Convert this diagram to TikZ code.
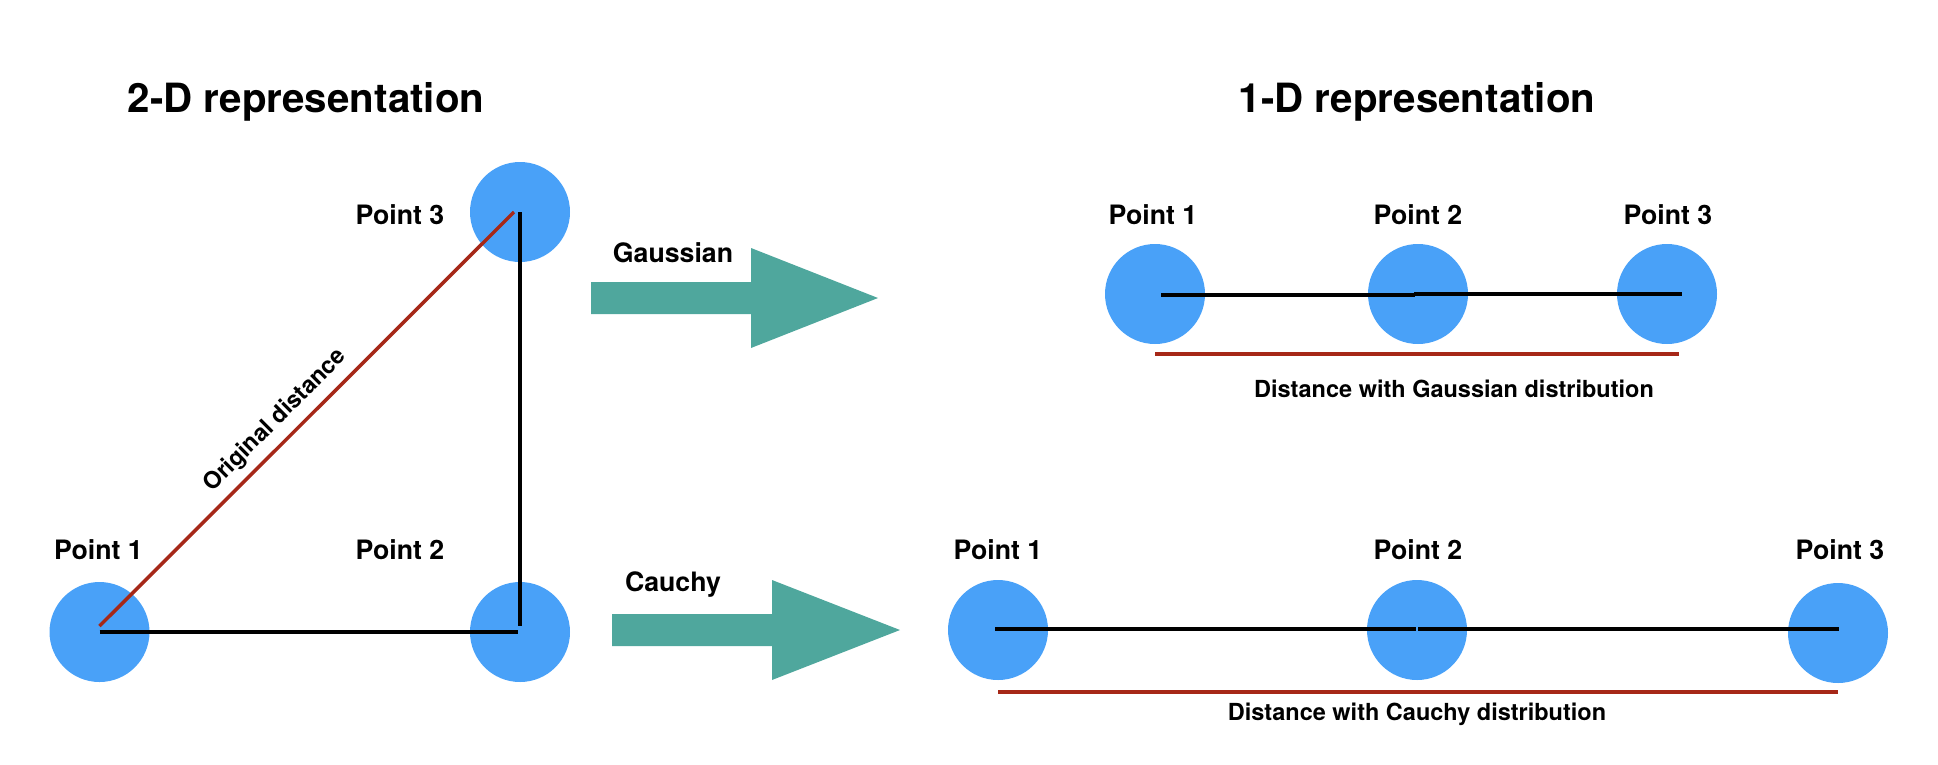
\documentclass[tikz,border=0pt]{standalone}
\usepackage{fontspec}
\setmainfont{TeX Gyre Heros}
\definecolor{dotblue}{RGB}{73,161,248}
\definecolor{arrowteal}{RGB}{79,167,157}
\definecolor{distred}{RGB}{166,40,24}
\tikzset{
  ptdot/.style={circle, fill=dotblue, minimum size=100pt, inner sep=0pt},
  ptlabel/.style={anchor=base, inner sep=0pt, font=\fontsize{26.7}{32}\selectfont\bfseries},
  titlelabel/.style={anchor=base, inner sep=0pt, font=\fontsize{40.3}{48}\selectfont\bfseries},
  distlabel/.style={anchor=base, inner sep=0pt, font=\fontsize{23.5}{28}\selectfont\bfseries},
  blackline/.style={line width=4pt, black},
  redline/.style={line width=3.5pt, distred},
}

\begin{document}
\begin{tikzpicture}[x=1pt, y=-1pt]
    \useasboundingbox (0,0) rectangle (1938,764);

    % titles
    \node[titlelabel] (title2d) at (306,112) {2-D representation};
    \node[titlelabel] (title1d) at (1417,112) {1-D representation};

    % 2-D points
    \node[ptdot] (a1) at (99.5,632) {};
    \node[ptdot] (a2) at (520,632) {};
    \node[ptdot] (a3) at (520,212) {};
    \node[ptlabel] (la1) at (98.5,559) {Point 1};
    \node[ptlabel] (la2) at (400,559) {Point 2};
    \node[ptlabel] (la3) at (400,224) {Point 3};

    \draw[blackline] (a1.center) -- ([xshift=-2pt]a2.center);
    \draw[blackline] (a3.center) -- ([yshift=6pt]a2.center);
    \draw[redline] ([yshift=6pt]a1.center) -- node[sloped, pos=0.46, above=8pt, inner sep=0pt,
        font=\fontsize{23.5}{28}\selectfont\bfseries, text=black] (orig) {Original distance}
        ([xshift=-6pt]a3.center);

    % the two big arrows
    \fill[arrowteal] (591,282) -- (751,282) -- (751,248) -- (878,298)
        -- (751,348) -- (751,314) -- (591,314) -- cycle;
    \fill[arrowteal] (612,614) -- (772,614) -- (772,580) -- (900,630)
        -- (772,680) -- (772,646) -- (612,646) -- cycle;
    \node[ptlabel] (gauss) at (673,262) {Gaussian};
    \node[ptlabel] (cauchy) at (673,591) {Cauchy};

    % 1-D, Gaussian
    \node[ptdot] (g1) at (1155,294) {};
    \node[ptdot] (g2) at (1418,294) {};
    \node[ptdot] (g3) at (1667,294) {};
    \node[ptlabel] (lg1) at (1153,224) {Point 1};
    \node[ptlabel] (lg2) at (1418,224) {Point 2};
    \node[ptlabel] (lg3) at (1668,224) {Point 3};
    \draw[blackline] ([xshift=6pt,yshift=-1pt]g1.center) -- ([xshift=-3pt,yshift=-1pt]g2.center);
    \draw[blackline] ([xshift=-4pt]g2.center) -- ([xshift=15pt]g3.center);
    \draw[redline, line width=4pt] ([yshift=-60pt]g1.center) -- ([xshift=12pt,yshift=-60pt]g3.center);
    \node[distlabel] (dg) at (1454,397) {Distance with Gaussian distribution};

    % 1-D, Cauchy
    \node[ptdot] (c1) at (998,630) {};
    \node[ptdot] (c2) at (1417,630) {};
    \node[ptdot] (c3) at (1838,633) {};
    \node[ptlabel] (lc1) at (998,559) {Point 1};
    \node[ptlabel] (lc2) at (1418,559) {Point 2};
    \node[ptlabel] (lc3) at (1840,559) {Point 3};
    \draw[blackline] ([xshift=-3pt,yshift=1pt]c1.center) -- ([xshift=-1pt,yshift=1pt]c2.center);
    \draw[blackline] ([xshift=1pt,yshift=1pt]c2.center) -- ([xshift=1pt,yshift=4pt]c3.center);
    \draw[redline, line width=4pt] ([yshift=-62pt]c1.center) -- ([yshift=-59pt]c3.center);
    \node[distlabel] (dc) at (1417,720) {Distance with Cauchy distribution};
\end{tikzpicture}
\end{document}
